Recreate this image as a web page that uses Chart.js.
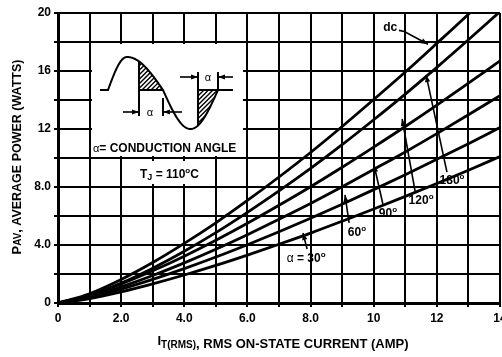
<!DOCTYPE html>
<html><head><meta charset="utf-8">
<script src="https://cdn.jsdelivr.net/npm/chart.js@4/dist/chart.umd.min.js"></script>
<style>html,body{margin:0;padding:0;background:#fff;}#wrap{width:502px;height:357px;position:relative;}</style>
</head><body><div id="wrap"><canvas id="c" width="502" height="357"></canvas></div>
<script>
// ---- data ----
const current = [0,1,2,3,4,5,6,7,8,9,10,11,12,13,14];
const pDC   = [0,0.64,1.62,2.79,4.11,5.53,7.07,8.69,10.38,12.17,14.03,15.93,17.91,19.92,22.0];
const p180  = [0,0.53,1.37,2.40,3.57,4.85,6.25,7.73,9.28,10.92,12.64,14.41,16.25,18.15,20.1];
const p120  = [0,0.53,1.31,2.22,3.23,4.33,5.50,6.74,8.02,9.36,10.75,12.17,13.64,15.16,16.7];
const p90   = [0,0.45,1.12,1.90,2.77,3.71,4.71,5.77,6.86,8.01,9.21,10.42,11.68,12.98,14.3];
const p60   = [0,0.39,0.96,1.63,2.37,3.17,4.02,4.91,5.84,6.81,7.82,8.85,9.91,10.99,12.1];
const p30   = [0,0.31,0.77,1.32,1.93,2.59,3.30,4.05,4.82,5.64,6.48,7.35,8.24,9.16,10.1];
const seriesNames = ['dc','180°','120°','90°','60°','α = 30°'];
const xTickValues = [0,2,4,6,8,10,12,14];
const xTickLabels = ['0','2.0','4.0','6.0','8.0','10','12','14'];
const yTickValues = [0,4,8,12,16,20];
const yTickLabels = ['0','4.0','8.0','12','16','20'];

const FAM = "'Liberation Sans', Arial, sans-serif";
const series = [pDC,p180,p120,p90,p60,p30];

function runsWidth(ctx, runs){
  let w=0; for(const r of runs){ ctx.font = (r.style||'bold')+' '+r.size+'px '+FAM; w+=ctx.measureText(r.t).width; } return w;
}
function drawRuns(ctx, x, y, runs, align){
  const w = runsWidth(ctx, runs);
  let cx = align==='center' ? x - w/2 : (align==='right' ? x - w : x);
  ctx.textAlign='left'; ctx.textBaseline='alphabetic'; ctx.fillStyle='#000';
  for(const r of runs){ ctx.font=(r.style||'bold')+' '+r.size+'px '+FAM; ctx.fillText(r.t, cx, y+(r.dy||0)); cx+=ctx.measureText(r.t).width; }
}
function arrowHead(ctx, x1,y1,x2,y2, len, hw){
  const a=Math.atan2(y2-y1,x2-x1);
  ctx.beginPath(); ctx.moveTo(x2,y2);
  ctx.lineTo(x2-len*Math.cos(a)+hw*Math.sin(a), y2-len*Math.sin(a)-hw*Math.cos(a));
  ctx.lineTo(x2-len*Math.cos(a)-hw*Math.sin(a), y2-len*Math.sin(a)+hw*Math.cos(a));
  ctx.closePath(); ctx.fill();
}
function arrowLine(ctx, pts){
  ctx.beginPath(); ctx.moveTo(pts[0][0],pts[0][1]);
  for(let i=1;i<pts.length;i++) ctx.lineTo(pts[i][0],pts[i][1]);
  ctx.stroke();
  const n=pts.length; arrowHead(ctx, pts[n-2][0],pts[n-2][1],pts[n-1][0],pts[n-1][1],7,2.6);
}

// annotation positions in data units (I, P)
const curveLabels = [
  {runs:[{t:'dc',size:12}], at:[10.52,18.75], arrow:[[10.80,18.80],[10.97,18.72],[11.72,17.85]]},
  {runs:[{t:'180',size:12},{t:'o',size:8,dy:-5}], at:[12.48,8.2], arrow:[[12.32,9.03],[11.66,15.72]]},
  {runs:[{t:'120',size:12},{t:'o',size:8,dy:-5}], at:[11.50,6.8], arrow:[[11.31,7.72],[10.90,12.69]]},
  {runs:[{t:'90',size:12},{t:'o',size:8,dy:-5}], at:[10.45,5.9], arrow:[[10.29,6.83],[10.01,9.52]]},
  {runs:[{t:'60',size:12},{t:'o',size:8,dy:-5}], at:[9.47,4.6], arrow:[[9.22,5.52],[9.09,7.45]]},
  {runs:[{t:'α',size:12,style:'normal'},{t:' = 30',size:12},{t:'o',size:8,dy:-5}], at:[7.86,2.8], arrow:[[7.89,3.72],[7.76,4.83]]}
];

const decor = {
  id:'decor',
  beforeDatasetsDraw(chart){
    const ctx=chart.ctx, ca=chart.chartArea;
    const ox=ca.left-58, oy=ca.top-13;
    ctx.save(); ctx.translate(ox,oy); ctx.fillStyle='#fff';
    ctx.fillRect(92,44,151,112);
    ctx.fillRect(134,161,72,23);
    ctx.restore();
  },
  afterDatasetsDraw(chart){
    const ctx=chart.ctx, ca=chart.chartArea, xs=chart.scales.x, ys=chart.scales.y;
    const ox=ca.left-58, oy=ca.top-13;
    // ---- inset ----
    ctx.save(); ctx.translate(ox,oy);
    ctx.strokeStyle='#000'; ctx.fillStyle='#000'; ctx.lineWidth=2; ctx.lineCap='butt';
    const base=90;
    function waveY(x){
      if(x<=108) return base;
      if(x<=127) return base-33*Math.sin((x-108)/19*Math.PI/2);
      if(x<=163) return base-33*Math.sin(Math.PI/2+(x-127)/36*Math.PI/2);
      if(x<=218) return base+39*Math.sin((x-163)/55*Math.PI);
      return base;
    }
    ctx.beginPath(); ctx.moveTo(100,base);
    for(let x=100;x<=218;x+=0.5) ctx.lineTo(x,waveY(x));
    ctx.stroke();
    ctx.beginPath(); ctx.moveTo(139,base); ctx.lineTo(163,base); ctx.stroke();
    ctx.beginPath(); ctx.moveTo(198,base); ctx.lineTo(233,base); ctx.stroke();
    function hatch(x1,x2,top){
      ctx.save(); ctx.beginPath();
      ctx.moveTo(x1,base);
      for(let x=x1;x<=x2;x+=0.5) ctx.lineTo(x,waveY(x));
      ctx.lineTo(x2,base); ctx.closePath(); ctx.clip();
      ctx.lineWidth=1.4; ctx.beginPath();
      for(let k=-80;k<80;k+=4.5){ ctx.moveTo(x1+k,top+60); ctx.lineTo(x1+k+60,top); }
      ctx.stroke(); ctx.restore();
    }
    hatch(139,163,50); hatch(198,218,80);
    ctx.lineWidth=2;
    ctx.beginPath(); ctx.moveTo(139,waveY(139)); ctx.lineTo(139,116); ctx.stroke();
    ctx.beginPath(); ctx.moveTo(163,98); ctx.lineTo(163,116); ctx.stroke();
    ctx.beginPath(); ctx.moveTo(198,72); ctx.lineTo(198,waveY(198)); ctx.stroke();
    ctx.beginPath(); ctx.moveTo(218,72); ctx.lineTo(218,90); ctx.stroke();
    ctx.lineWidth=1.6;
    arrowLine(ctx,[[123,112],[139,112]]); arrowLine(ctx,[[182,112],[163,112]]);
    arrowLine(ctx,[[180,77],[198,77]]); arrowLine(ctx,[[233,77],[218,77]]);
    drawRuns(ctx,150,116,[{t:'α',size:11,style:'normal'}],'center');
    drawRuns(ctx,208,81,[{t:'α',size:11,style:'normal'}],'center');
    drawRuns(ctx,93,152,[{t:'α',size:11,style:'normal'},{t:'= CONDUCTION ANGLE',size:12}],'left');
    drawRuns(ctx,140,178,[{t:'T',size:12},{t:'J',size:9,dy:2},{t:' = 110',size:12},{t:'o',size:8,dy:-5},{t:'C',size:12}],'left');
    ctx.restore();

    // ---- curve labels ----
    ctx.save(); ctx.strokeStyle='#000'; ctx.fillStyle='#000'; ctx.lineWidth=1.6;
    for(const c of curveLabels){
      const tx=xs.getPixelForValue(c.at[0]), ty=ys.getPixelForValue(c.at[1]);
      drawRuns(ctx,tx,ty,c.runs,'center');
      arrowLine(ctx,c.arrow.map(p=>[xs.getPixelForValue(p[0]),ys.getPixelForValue(p[1])]));
    }
    ctx.restore();

    // ---- axis titles ----
    ctx.save();
    const xr=[{t:'I',size:13,dy:-3},{t:'T(RMS)',size:10},{t:', RMS ON-STATE CURRENT (AMP)',size:13}];
    drawRuns(ctx,(ca.left+ca.right)/2+4,348,xr,'center');
    ctx.translate(21,(ca.top+ca.bottom)/2-1); ctx.rotate(-Math.PI/2);
    drawRuns(ctx,0,0,[{t:'P',size:13},{t:'AV',size:10},{t:', AVERAGE POWER (WATTS)',size:12.5}],'center');
    ctx.restore();
  }
};

const datasets = series.map((d,i)=>({
  label: seriesNames[i],
  data: current.map((x,j)=>({x:x,y:d[j]})),
  borderColor:'#000', borderWidth:2.8, pointRadius:0, fill:false,
  cubicInterpolationMode:'monotone'
}));

const tickFont = {family:FAM, size:12, weight:'bold'};
new Chart(document.getElementById('c'), {
  type:'line',
  data:{datasets},
  plugins:[decor],
  options:{
    responsive:false, animation:false, devicePixelRatio:1,
    layout:{padding:{left:0,right:2,top:13,bottom:0}},
    plugins:{legend:{display:false}, tooltip:{enabled:false}},
    scales:{
      x:{type:'linear', min:0, max:14,
        ticks:{stepSize:1, autoSkip:false, maxRotation:0, padding:4, color:'#000', font:tickFont,
          callback:(v)=>{const i=xTickValues.indexOf(v); return i>=0?xTickLabels[i]:'';}},
        grid:{color:'#000', lineWidth:2, tickLength:4},
        border:{color:'#000', width:3},
        afterFit:(s)=>{s.height=54; s.paddingLeft=0; s.paddingRight=0;}
      },
      y:{min:0, max:20,
        ticks:{stepSize:2, autoSkip:false, padding:3, color:'#000', font:tickFont,
          callback:(v)=>{const i=yTickValues.indexOf(v); return i>=0?yTickLabels[i]:'';}},
        grid:{color:'#000', lineWidth:2, tickLength:4},
        border:{color:'#000', width:3},
        afterFit:(s)=>{s.width=58; s.paddingTop=0; s.paddingBottom=0;}
      }
    }
  }
});
</script></body></html>
